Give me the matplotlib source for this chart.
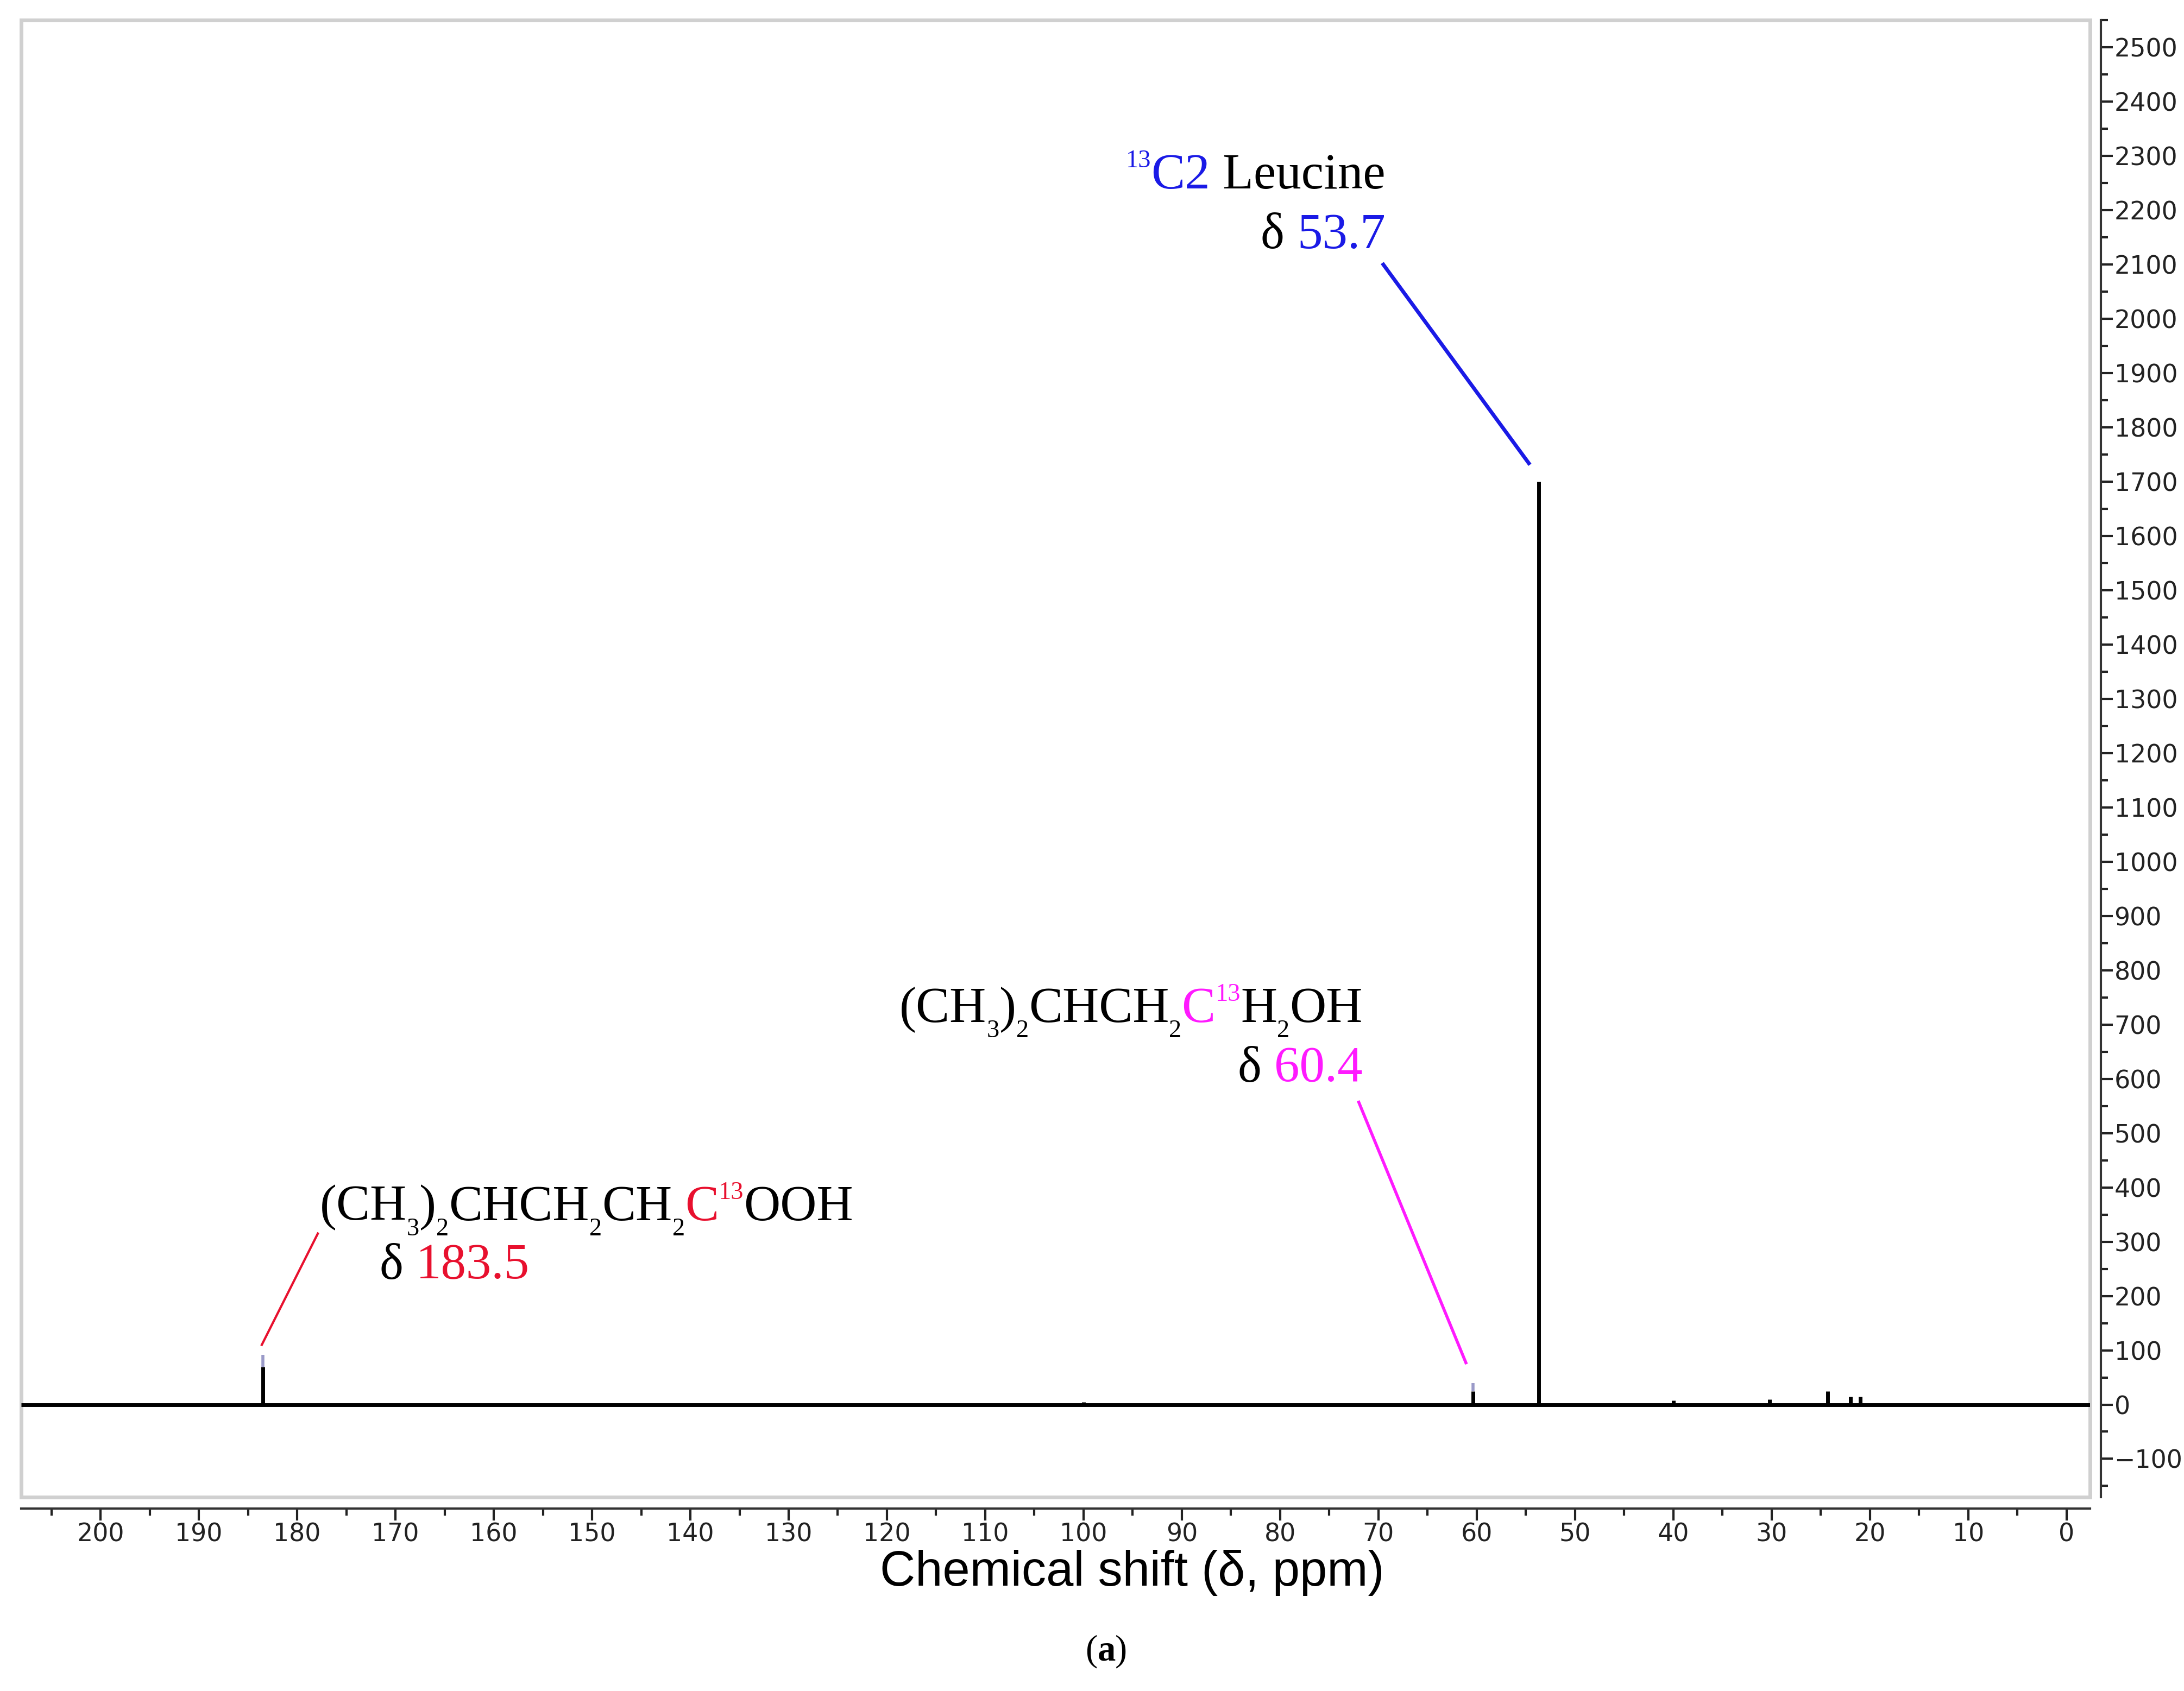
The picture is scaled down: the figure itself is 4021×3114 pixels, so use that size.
import matplotlib
matplotlib.use("Agg")
import matplotlib.pyplot as plt
import matplotlib.transforms as mtransforms
from matplotlib.patches import Rectangle

# peaks (ppm, intensity)
peak_ppm = [183.5, 60.4, 53.7, 40.0, 30.2, 24.3, 22.0, 21.0, 100.0]
peak_int = [70, 25, 1700, 8, 10, 25, 15, 15, 5]
peak_tip = [92, 40]  # faint tops of the two small labelled peaks

x_ticks = list(range(0, 201, 10))
y_ticks = list(range(-100, 2501, 100))

SERIF = "Liberation Serif"
fig = plt.figure(figsize=(40.21, 31.14), dpi=100)
ax = fig.add_axes([0.0096, 0.1145, 0.9474, 0.8735])
ax.set_xlim(208.1, -2.4)
ax.set_ylim(-171, 2538)

ax.hlines(0, 208.1, -2.4, color="black", lw=5)
ax.vlines(peak_ppm, 0, peak_int, color="black", lw=5)
ax.vlines(peak_ppm[:2], peak_int[:2], peak_tip, color="#9a9ac8", lw=4)

# frame + offset axes
for s in ["top", "left"]:
    ax.spines[s].set_visible(False)
ax.add_patch(Rectangle((0, 0), 1, 1, transform=ax.transAxes, fill=False,
                       ec="#d0d0d0", lw=5, clip_on=False))
ax.spines["right"].set_position(("outward", 14))
ax.spines["bottom"].set_position(("outward", 15))
for s in ["right", "bottom"]:
    ax.spines[s].set_linewidth(3)
    ax.spines[s].set_color("#333333")
ax.yaxis.tick_right()
ax.set_xticks(x_ticks)
ax.set_xticks(range(5, 206, 10), minor=True)
ax.set_yticks(y_ticks)
ax.set_yticks(range(-150, 2551, 100), minor=True)
ax.tick_params(which="major", length=16, width=3, labelsize=33, pad=2, colors="#222222")
ax.tick_params(which="minor", length=9, width=3, colors="#222222")
ax.set_xlabel("Chemical shift (δ, ppm)", fontsize=65, labelpad=4, family="Liberation Sans")
ax.xaxis.label.set_x(0.537)

renderer = fig.canvas.get_renderer()
FS = 67


def rich(x, y, pieces, ha="left"):
    # pieces: (text, color, kind) kind '', 'sub', 'sup'
    arts = []
    w = 0
    for txt, col, kind in pieces:
        fs = FS * 0.5 if kind else FS
        dy = -FS * 0.3 if kind == "sub" else (FS * 0.42 if kind == "sup" else 0)
        t = ax.text(x, y, txt, color=col, fontsize=fs, family=SERIF, va="baseline")
        arts.append((t, dy))
        w += t.get_window_extent(renderer).width
    start = -w if ha == "right" else 0
    for t, dy in arts:
        t.set_transform(mtransforms.offset_copy(ax.transData, fig, x=start, y=dy * 100 / 72, units="dots"))
        start += t.get_window_extent(renderer).width


BLUE, MAG, RED, K = "#1a1ae6", "#ff1aff", "#e8102e", "black"
rich(69.3, 2240, [("13", BLUE, "sup"), ("C2", BLUE, ""), (" Leucine", K, "")], ha="right")
rich(69.3, 2130, [("δ ", K, ""), ("53.7", BLUE, "")], ha="right")
ax.plot([69.5, 54.7], [2100, 1734], color=BLUE, lw=5)

rich(71.6, 705, [("(CH", K, ""), ("3", K, "sub"), (")", K, ""), ("2", K, "sub"),
                 ("CHCH", K, ""), ("2", K, "sub"), ("C", MAG, ""), ("13", MAG, "sup"),
                 ("H", K, ""), ("2", K, "sub"), ("OH", K, "")], ha="right")
rich(71.6, 595, [("δ ", K, ""), ("60.4", MAG, "")], ha="right")
ax.plot([72.0, 61.1], [557, 77], color=MAG, lw=4)

rich(177.7, 340, [("(CH", K, ""), ("3", K, "sub"), (")", K, ""), ("2", K, "sub"),
                  ("CHCH", K, ""), ("2", K, "sub"), ("CH", K, ""), ("2", K, "sub"),
                  ("C", RED, ""), ("13", RED, "sup"), ("OOH", K, "")])
rich(171.6, 232, [("δ ", K, ""), ("183.5", RED, "")])
ax.plot([177.9, 183.6], [315, 110], color=RED, lw=3)

fig.text(0.5025, 0.018, "(", fontsize=48, family=SERIF, ha="right")
fig.text(0.5025, 0.018, "a", fontsize=48, family=SERIF, fontweight="bold", ha="left")
fig.text(0.5105, 0.018, ")", fontsize=48, family=SERIF, ha="left")

fig.savefig("out.png", dpi=100, facecolor="white")
